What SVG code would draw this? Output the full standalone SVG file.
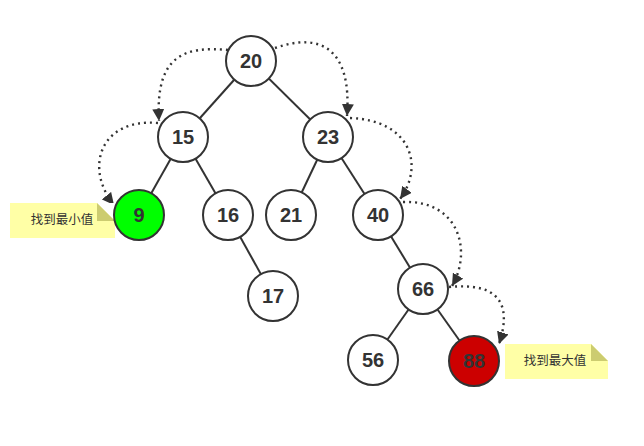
<svg xmlns="http://www.w3.org/2000/svg" width="644" height="446" viewBox="0 0 644 446">
  <style>
    .edge { stroke: #333; stroke-width: 2; fill: none; }
    .trace { stroke: #333; stroke-width: 2.4; fill: none; stroke-dasharray: 2 4; marker-end: url(#head); }
    .node circle { fill: #fff; stroke: #333; stroke-width: 2; }
    .node text { font-family: "Liberation Sans", Arial, sans-serif; font-size: 20px; font-weight: bold; fill: #333; text-anchor: middle; }
    .note rect { fill: #ffffa6; }
    .note .fold { fill: #cccc70; }
    .note .cut { fill: #fff; }
    .note text { font-family: "Liberation Sans", "Noto Sans CJK SC", sans-serif; font-size: 12.5px; fill: #333; text-anchor: middle; }
  </style>
  <defs>
    <marker id="head" markerUnits="userSpaceOnUse" markerWidth="14" markerHeight="12" refX="12" refY="6" orient="auto">
      <path d="M0,0 L12,6 L0,12 z" fill="#333"/>
    </marker>
  </defs>
  <rect width="644" height="446" fill="#fff"/>

  <g id="connectors">
    <line class="edge" x1="251" y1="61" x2="183" y2="137"/>
    <line class="edge" x1="251" y1="61" x2="328" y2="137"/>
    <line class="edge" x1="183" y1="137" x2="139" y2="215"/>
    <line class="edge" x1="183" y1="137" x2="228" y2="215"/>
    <line class="edge" x1="328" y1="137" x2="291" y2="215"/>
    <line class="edge" x1="328" y1="137" x2="378" y2="215"/>
    <line class="edge" x1="228" y1="215" x2="273" y2="296"/>
    <line class="edge" x1="378" y1="215" x2="423" y2="289"/>
    <line class="edge" x1="423" y1="289" x2="373" y2="360"/>
    <line class="edge" x1="423" y1="289" x2="474" y2="361"/>
    <path class="trace" d="M228,50 C185,46 155,55 159,121"/>
    <path class="trace" d="M275,48 C320,32 352,48 347,116"/>
    <path class="trace" d="M158,123 C100,118 84,168 114,205"/>
    <path class="trace" d="M350,118 C410,120 425,165 400,199"/>
    <path class="trace" d="M403,202 C460,200 472,252 452,286"/>
    <path class="trace" d="M449,287 C500,282 512,305 499,344"/>
  </g>

  <g id="note-min" class="note">
    <rect x="10" y="203" width="105" height="35"/>
    <path class="cut" d="M97,203 L115,221 L115,203 z"/>
    <path class="fold" d="M97,203 L115,221 L97,221 z"/>
    <text x="62" y="224">找到最小值</text>
  </g>
  <g id="note-max" class="note">
    <rect x="505" y="344" width="103" height="35"/>
    <path class="cut" d="M591,344 L608,361 L608,344 z"/>
    <path class="fold" d="M591,344 L608,361 L591,361 z"/>
    <text x="555" y="365">找到最大值</text>
  </g>

  <g id="n20" class="node"><circle cx="251" cy="61" r="25"/><text x="251" y="68">20</text></g>
  <g id="n15" class="node"><circle cx="183" cy="137" r="25"/><text x="183" y="144">15</text></g>
  <g id="n23" class="node"><circle cx="328" cy="137" r="25"/><text x="328" y="144">23</text></g>
  <g id="n9" class="node"><circle cx="139" cy="215" r="25" style="fill:#00ff00"/><text x="139" y="222">9</text></g>
  <g id="n16" class="node"><circle cx="228" cy="215" r="25"/><text x="228" y="222">16</text></g>
  <g id="n21" class="node"><circle cx="291" cy="215" r="25"/><text x="291" y="222">21</text></g>
  <g id="n40" class="node"><circle cx="378" cy="215" r="25"/><text x="378" y="222">40</text></g>
  <g id="n17" class="node"><circle cx="273" cy="296" r="25"/><text x="273" y="303">17</text></g>
  <g id="n66" class="node"><circle cx="423" cy="289" r="25"/><text x="423" y="296">66</text></g>
  <g id="n56" class="node"><circle cx="373" cy="360" r="25"/><text x="373" y="367">56</text></g>
  <g id="n88" class="node"><circle cx="474" cy="361" r="25" style="fill:#cc0000"/><text x="474" y="368">88</text></g>
</svg>
